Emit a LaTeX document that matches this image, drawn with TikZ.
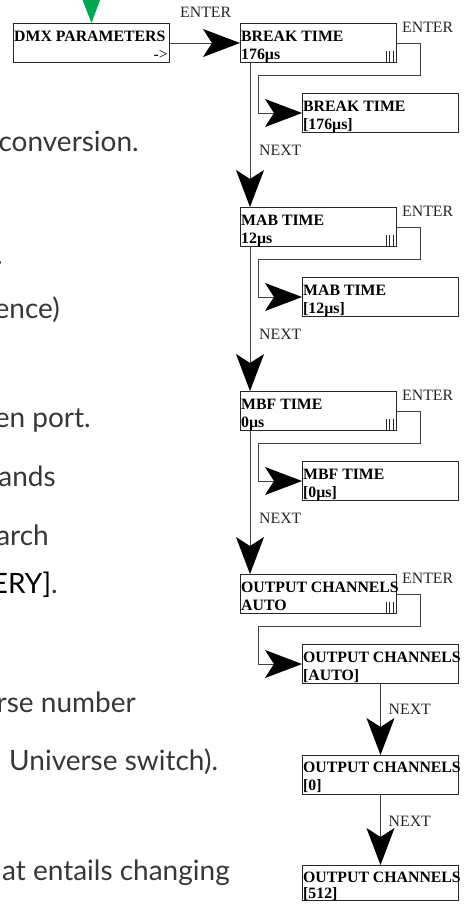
\documentclass[tikz,border=0pt]{standalone}
\usepackage{fontspec}
\setmainfont{Liberation Serif}
\newfontfamily\bodyfont{Lato}
\usetikzlibrary{arrows.meta,calc}
\definecolor{ggreen}{RGB}{0,166,81}
\definecolor{bodygray}{RGB}{55,55,55}
\begin{document}
\begin{tikzpicture}[x=1pt,y=-1pt,
  box/.style={draw=black!85, line width=1pt, minimum width=156pt, minimum height=39pt, inner sep=0pt, anchor=north west},
  ttl/.style={anchor=base west, inner sep=0pt, font=\fontsize{15.8}{18}\selectfont\bfseries},
  lbl/.style={anchor=base west, inner sep=0pt, font=\fontsize{15.8}{18}\selectfont, text=black!85},
  arr/.style={draw=black!75, line width=1pt, -{Stealth[length=37pt,width=28pt,inset=9pt,fill=black,color=black]}},
  garr/.style={draw=ggreen, line width=1pt, -{Stealth[length=37pt,width=28pt,inset=9pt,fill=ggreen,color=ggreen]}},
  body/.style={anchor=base east, inner sep=0pt, font=\bodyfont\fontsize{28}{32}\selectfont, text=bodygray}
]
\useasboundingbox (0,0) rectangle (467,906);
\clip (0,0) rectangle (467,906);

% left body text (cut off at the left edge, as in the reference)
\node[body] (t1) at (139,151) {conversion.};
\node[body] (t2) at (3,264) {.};
\node[body] (t3) at (60,318) {ence)};
\node[body] (t4) at (91,427) {en port.};
\node[body] (t5) at (56,486) {ands};
\node[body] (t6) at (49,545) {arch};
\node[body] (t7) at (58,593) {\textcolor{black}{ERY]}.};
\node[body] (t8) at (136,712) {rse number};
\node[body,anchor=base west] (t9) at (9,770) {Universe switch).};
\node[body] (t10) at (230,880) {at entails changing};

% DMX parameters
\coordinate (gtop) at (91,-40);
\node[box] (dmx) at (13,23) {};
\node[ttl] (dmxt) at ($(dmx.north west)+(1,18)$) {DMX PARAMETERS};
\node[ttl,anchor=base east,font=\fontsize{15.8}{18}\selectfont] (dmxa) at ($(dmx.north east)+(-2,36)$) {->};
\draw[garr] (gtop) -- (dmx.north);
\node[lbl] (e0) at (180,17) {ENTER};

% main blocks
\foreach \i/\T/\tt/\vv/\ss in {1/23/BREAK TIME/176µs/[176µs],2/207/MAB TIME/12µs/[12µs],3/391/MBF TIME/0µs/[0µs],4/574/OUTPUT CHANNELS/AUTO/[AUTO]}{
  \node[box] (b\i) at (240,\T) {};
  \node[ttl] (b\i t) at ($(b\i.north west)+(1,18)$) {\tt};
  \node[ttl] (b\i v) at ($(b\i.north west)+(1,36)$) {\vv};
  \draw[black!85,line width=0.8pt] ($(b\i.south east)+(-11,-12)$) -- ($(b\i.south east)+(-11,0)$)
        ($(b\i.south east)+(-7.5,-12)$) -- ($(b\i.south east)+(-7.5,0)$)
        ($(b\i.south east)+(-4,-12)$) -- ($(b\i.south east)+(-4,0)$);
  \node[lbl] (b\i e) at ($(b\i.north east)+(5,9)$) {ENTER};
  \node[box] (s\i) at ($(b\i.north west)+(62,70)$) {};
  \node[ttl] (s\i t) at ($(s\i.north west)+(1,18)$) {\tt};
  \node[ttl] (s\i v) at ($(s\i.north west)+(1,36)$) {\ss};
  \coordinate (c\i a) at ($(b\i.north west)+(180,52)$);
  \coordinate (c\i b) at ($(b\i.north west)+(18,52)$);
  \draw[arr] (b\i.east) -| (c\i a) -- (c\i b) |- (s\i.west);
}
\draw[arr] (dmx.east) -- (b1.west);
\foreach \i/\j in {1/2,2/3,3/4}{
  \draw[arr] ($(b\i.south west)+(10,0)$) -- ($(b\j.north west)+(10,0)$);
  \node[lbl] (n\i) at ($(b\i.north west)+(19,132)$) {NEXT};
}

% output channel values
\node[box] (o1) at (302,755) {};
\node[ttl] (o1t) at ($(o1.north west)+(1,17)$) {OUTPUT CHANNELS};
\node[ttl] (o1v) at ($(o1.north west)+(1,35)$) {[0]};
\node[box,minimum height=35pt] (o2) at (302,865) {};
\node[ttl] (o2t) at ($(o2.north west)+(1,17)$) {OUTPUT CHANNELS};
\node[ttl] (o2v) at ($(o2.north west)+(1,33)$) {[512]};
\draw[arr] (s4.south) -- (o1.north);
\draw[arr] (o1.south) -- (o2.north);
\node[lbl] (n4) at ($(s4.south)+(8,30)$) {NEXT};
\node[lbl] (n5) at ($(o1.south)+(8,31)$) {NEXT};
\end{tikzpicture}
\end{document}
